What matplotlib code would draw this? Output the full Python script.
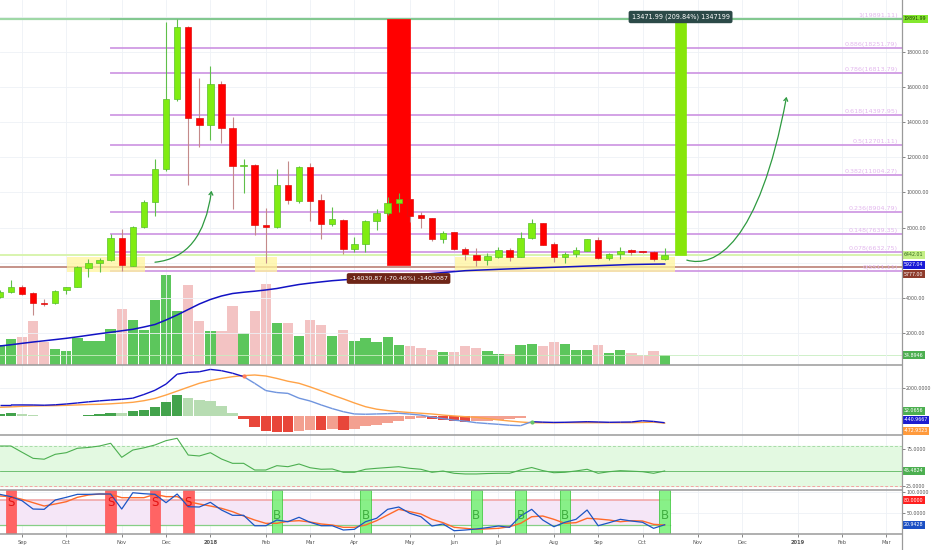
import numpy as np
import pandas as pd
import matplotlib
matplotlib.use('Agg')
import matplotlib.pyplot as plt
import matplotlib.transforms as mtransforms
from matplotlib.patches import Rectangle, FancyArrowPatch
from matplotlib.path import Path
from matplotlib.lines import Line2D
from matplotlib.collections import LineCollection
from matplotlib.ticker import FuncFormatter

plt.rcParams['font.family'] = ['DejaVu Sans']

# weekly bars, index 0 = first week of Sep 2017
weeks = pd.date_range('2017-08-21', periods=61, freq='W-MON')
x = np.arange(len(weeks)) - 2

opens = [4050, 4316, 4636, 4260, 3700, 3690, 4447, 4636, 5717, 6003, 6156, 7390, 5830, 8020, 9440,
         11320, 15306, 19408, 14225, 13844, 16179, 13655, 11526, 11566, 8150, 8050, 10427, 9516, 11469,
         9573, 8189, 8434, 6783, 7050, 8377, 8815, 9385, 9630, 8719, 8530, 7335, 7733, 6783, 6440, 6156,
         6344, 6720, 6344, 7390, 8246, 7050, 6310, 6480, 6686, 7295, 6253, 6480, 6725, 6630, 6630, 6196]
highs = [4420, 5000, 4730, 4330, 3920, 4440, 4640, 5800, 6196, 6250, 7637, 7900, 8090, 9573, 11890,
         19697, 19891, 19500, 16500, 17204, 16350, 14282, 11890, 11600, 9100, 11320, 11794, 11526, 11663,
         9914, 9191, 8500, 7483, 8420, 9043, 9761, 9954, 9650, 8907, 8560, 7825, 7760, 6913, 6822, 6555,
         6913, 6822, 7733, 8491, 8280, 7198, 6630, 6913, 7370, 7483, 6560, 6913, 6780, 6650, 6680, 6822]
lows = [3980, 4250, 4160, 3024, 3550, 3650, 4220, 4600, 5170, 5490, 6100, 5547, 5800, 7980, 8660,
        11200, 15200, 10427, 12574, 12990, 12836, 9043, 9990, 7580, 5985, 8000, 9345, 9400, 8394,
        7335, 8100, 6498, 6630, 6630, 7865, 8700, 8907, 8340, 7960, 7255, 7107, 6700, 6156, 5814, 5870,
        6253, 6116, 6300, 7350, 6990, 6025, 5968, 6310, 6650, 6200, 6150, 6196, 6420, 6560, 6120, 6150]
closes = [4330, 4636, 4220, 3725, 3640, 4410, 4636, 5775, 6003, 6156, 7390, 5870, 8020, 9440, 11320,
          15306, 19408, 14225, 13844, 16179, 13655, 11526, 11566, 8150, 8050, 10427, 9573, 11469, 9516,
          8189, 8474, 6783, 7050, 8377, 8815, 9385, 9630, 8680, 8530, 7335, 7710, 6765, 6480, 6156, 6384,
          6720, 6344, 7390, 8246, 7010, 6310, 6480, 6725, 7335, 6253, 6498, 6686, 6611, 6595, 6196, 6442]
volume = [72, 94, 101, 161, 81, 57, 50, 99, 86, 86, 132, 204, 163, 128, 237, 330, 198, 292, 158, 123,
          123, 215, 117, 195, 297, 154, 154, 106, 163, 145, 106, 127, 86, 99, 81, 101, 70, 68, 59, 53,
          46, 46, 68, 59, 50, 39, 39, 70, 77, 68, 81, 75, 55, 55, 70, 44, 53, 44, 35, 50, 34.9]
price_ma = [1259, 1330, 1410, 1486, 1555, 1625, 1697, 1780, 1870, 1959, 2040, 2125, 2210, 2340, 2483,
            2739, 3024, 3337, 3650, 3907, 4106, 4248, 4320, 4379, 4450, 4533, 4650, 4761, 4840, 4910,
            4977, 5025, 5070, 5114, 5160, 5200, 5245, 5290, 5340, 5387, 5440, 5495, 5547, 5575, 5600,
            5625, 5650, 5672, 5695, 5718, 5740, 5763, 5786, 5810, 5832, 5855, 5878, 5900, 5910, 5920, 5927]

macd = [816, 816, 820, 816, 800, 830, 887, 960, 1040, 1110, 1170, 1220, 1300, 1560, 1860, 2300, 3000,
        3130, 3170, 3340, 3250, 3070, 2830, 2350, 1840, 1700, 1640, 1300, 1100, 820, 560, 340, 180, 160,
        180, 200, 230, 170, 100, -40, -150, -260, -330, -440, -500, -555, -620, -650, -370, -400, -420,
        -410, -390, -370, -390, -410, -400, -390, -300, -350, -441]
signal = [652, 680, 720, 745, 760, 770, 790, 820, 850, 865, 900, 950, 1007, 1120, 1280, 1525, 1800,
          2080, 2355, 2550, 2700, 2823, 2900, 2943, 2872, 2700, 2500, 2355, 2100, 1820, 1525, 1250, 960,
          695, 520, 420, 340, 280, 230, 177, 100, 40, -14, -57, -150, -240, -319, -390, -440, -445, -445,
          -440, -440, -440, -440, -440, -440, -440, -420, -400, -473]
hist = [190, 235, 190, 120, 50, 25, 20, 70, 120, 190, 260, 235, 355, 475, 660, 1015, 1490, 1325, 1135,
        1085, 710, 260, -165, -710, -1030, -1065, -1085, -1015, -960, -980, -920, -945, -870, -640, -600,
        -475, -285, -190, -140, -190, -235, -305, -355, -335, -285, -235, -190, -90, 70, 30, 22, 35, 55,
        70, 45, 38, 36, 33, 25, 20, 32]
rsi = [79.5, 79.5, 71, 62.7, 61.5, 68.2, 70.4, 76.4, 77.5, 79.5, 83.2, 64.1, 74, 77, 80.9, 86.8, 90,
       67.2, 65.9, 70.4, 61.8, 55.9, 55.9, 46.8, 46.8, 52.7, 51.3, 55, 49.9, 47.8, 48.2, 43.7, 43.7,
       47.8, 49.1, 50.2, 51.3, 49.1, 47.8, 43.7, 45.4, 42.3, 41.4, 41.4, 42, 42.3, 42.3, 46.8, 50.2, 46,
       43.1, 43.7, 45.5, 47.8, 42.3, 44.5, 45.9, 45.2, 44.5, 42.3, 45.48]
stoch_k = [94.6, 89, 79.2, 59, 58.3, 80.9, 87.4, 94.6, 94.6, 95.4, 95.4, 59, 98.5, 96.1, 94.6, 74.4,
           95.4, 64.6, 63.9, 75.3, 56.7, 43.8, 43.8, 18.6, 18.6, 32.4, 28.3, 39, 26.9, 18.6, 18.6, 8.2,
           9.9, 28.3, 36.6, 58.3, 63.9, 48.7, 40.4, 17.9, 22.8, 6.5, 8.2, 10.7, 14, 17.9, 14.7, 42.1,
           58.3, 32.4, 16.2, 26.9, 34.1, 56.7, 18.6, 26, 34.1, 30, 26.9, 12.3, 20.94]
stoch_d = [90.6, 89, 82.5, 74.4, 66.3, 71.2, 76.8, 87.4, 93, 95.4, 94.6, 86.5, 86.5, 86.5, 94.6, 89,
           89, 76.8, 71.2, 66.3, 60.7, 52.6, 42.1, 32.4, 24.4, 24.4, 29.3, 30.8, 27.6, 22.8, 20.3, 14.7,
           14.7, 20.3, 30.8, 44.6, 58.3, 52.6, 47, 34.1, 26, 14.7, 12.3, 9.9, 11, 12.3, 16.2, 24.4, 40.4,
           42.1, 34.1, 24.4, 26, 36.6, 34.9, 32.4, 28.3, 30.8, 30, 22, 20.3]
sell_weeks = [-1, 8, 12, 15]
buy_weeks = [23, 31, 41, 45, 49, 58]

fib_ratios = ['0', '0.078', '0.148', '0.236', '0.382', '0.5', '0.618', '0.786', '0.886', '1']
fib_levels = [5511.11, 6632.75, 7639.35, 8904.79, 11004.27, 12701.11, 14397.95, 16813.79, 18251.79, 19891.11]
fib_start = 8
zones = [(4.06, 11.1), (21.0, 23.0), (39.1, 58.9)]
zone_low, zone_high = 5450, 6330
drop_range = (32.95, 35.02, 19891.11, 5860.24)
rise_range = (58.94, 59.93, 6419.12, 19891.11)

opens, highs, lows, closes = map(np.array, (opens, highs, lows, closes))
up = closes >= opens

W, H = 932, 550
fig = plt.figure(figsize=(W / 100, H / 100), dpi=100)
fig.patch.set_facecolor('white')


def box(top, bottom):
    return [0, 1 - bottom / H, 902 / W, (bottom - top) / H]


ax = fig.add_axes(box(0, 365))
axm = fig.add_axes(box(365, 435), sharex=ax)
axr = fig.add_axes(box(435, 490), sharex=ax)
axs = fig.add_axes(box(490, 534), sharex=ax)

# volume overlay shares the price panel
axv = ax.twinx()
axv.set_ylim(-1.8, 1338)
axv.set_yticks([])
for s in axv.spines.values():
    s.set_visible(False)
ax.set_zorder(axv.get_zorder() + 1)
ax.patch.set_visible(False)

# month ticks from the weekly calendar
all_weeks = pd.date_range(weeks[0], '2019-03-31', freq='W-MON')
pos = np.arange(len(all_weeks)) - 2
mticks, mlabels = [], []
for k in range(1, len(all_weeks)):
    if all_weeks[k].month != all_weeks[k - 1].month:
        mticks.append(pos[k])
        mlabels.append(str(all_weeks[k].year) if all_weeks[k].month == 1 else all_weeks[k].strftime('%b'))

grid_c = '#eef1f6'
for a in (ax, axm, axr, axs):
    for s in a.spines.values():
        s.set_visible(False)
    a.yaxis.tick_right()
    a.set_xticks(mticks)
    a.grid(True, color=grid_c, lw=0.6)
    a.set_axisbelow(True)
    a.tick_params(axis='y', labelsize=3.4, colors='#555555', length=2, width=0.5, pad=1)
    a.tick_params(axis='x', length=0, labelbottom=False)
axs.tick_params(axis='x', labelbottom=True, length=2, width=0.5, labelsize=3.7, colors='#555555', pad=2)
axs.set_xticklabels(mlabels)
for t in axs.get_xticklabels():
    if t.get_text().isdigit():
        t.set_fontweight('bold')

ax.set_xlim(-1.986, 79.42)

# ---- price panel
ax.set_ylim(176.5, 20962)
ax.set_yticks(np.arange(2000, 20001, 2000))
ax.yaxis.set_major_formatter(FuncFormatter(lambda v, p: '' if v in (6000, 20000) else f'{v:.2f}'))

axv.bar(x, volume, width=0.93, color=np.where(up, '#5cc65c', '#f3c3c3'), zorder=1)
axv.axhline(volume[-1], color='#c8eec0', lw=0.6)

ax.axhline(fib_levels[-1], color='#9fd8a6', lw=1.6, zorder=1)
for lvl, r in zip(fib_levels, fib_ratios):
    c = '#7cc48a' if r == '1' else '#c98be0'
    ax.plot([fib_start, 79.42], [lvl, lvl], color=c, lw=1.4, alpha=0.8, zorder=1)
    ax.text(79.06, lvl + 60, f'{r}({lvl:.2f})', ha='right', va='bottom', fontsize=4.6,
            color='#e3b8ee', zorder=2)
ax.axhline(closes[-1], color='#d6f3a8', lw=1.3, zorder=1)
ax.axhline(5777, color='#c08a80', lw=1.3, zorder=1)

for z0, z1 in zones:
    ax.add_patch(Rectangle((z0, zone_low), z1 - z0, zone_high - zone_low, fc='#fff59d',
                           ec='none', alpha=0.75, zorder=2))

d0, d1, dtop, dbot = drop_range
ax.add_patch(Rectangle((d0, dbot), d1 - d0, dtop - dbot, fc='#ff0000', ec='#ff0000', lw=0.5, zorder=3))
r0, r1, rbot, rtop = rise_range
ax.add_patch(Rectangle((r0, rbot), r1 - r0, rtop - rbot, fc='#86e60a', ec='#86e60a', lw=0.5, zorder=3))

wick_c = np.where(up, '#5fbf4a', '#c48a8a')
ax.vlines(x, lows, highs, colors=wick_c, lw=0.8, zorder=4)
body_lo = np.minimum(opens, closes)
body_h = np.maximum(np.abs(closes - opens), 45)
ax.bar(x, body_h, bottom=body_lo, width=0.58, color=np.where(up, '#80ec12', '#ff0000'),
       edgecolor=np.where(up, '#58c02a', '#e01010'), lw=0.5, zorder=4)

ax.plot(x, price_ma, color='#1212c4', lw=1.1, zorder=5)

arrow_kw = dict(arrowstyle='->,head_length=2.2,head_width=1.4', color='#2e9a40', lw=0.9, zorder=6)
p1 = Path([(12, 6030), (16.3, 6300), (17.1, 10100)], [Path.MOVETO, Path.CURVE3, Path.CURVE3])
p2 = Path([(60, 6150), (62.5, 5700), (66.5, 7000), (69, 15450)],
          [Path.MOVETO, Path.CURVE4, Path.CURVE4, Path.CURVE4])
ax.add_patch(FancyArrowPatch(path=p1, **arrow_kw))
ax.add_patch(FancyArrowPatch(path=p2, **arrow_kw))

ax.text((d0 + d1) / 2, 5103, '-14030.87 (-70.46%) -1403087', ha='center', va='center', fontsize=4.6,
        color='white', zorder=7, bbox=dict(boxstyle='round,pad=0.45,rounding_size=0.3', fc='#6e2517', ec='none'))
ax.text((r0 + r1) / 2, 19994, '13471.99 (209.84%) 1347199', ha='center', va='center', fontsize=4.7,
        color='white', zorder=7, bbox=dict(boxstyle='round,pad=0.45,rounding_size=0.3', fc='#2c4a48', ec='none'))


def tag(a, val, text, fc, tc='white', dy=0):
    tr = mtransforms.blended_transform_factory(a.transAxes, a.transData)
    a.annotate(text, xy=(1, val), xycoords=tr, xytext=(1.3, dy), textcoords='offset points',
               ha='left', va='center', fontsize=3.4, color=tc, annotation_clip=False, zorder=20,
               bbox=dict(boxstyle='square,pad=0.3', fc=fc, ec='none'))


tag(ax, 19891.99, '19891.99', '#84e82f', '#1b3b00')
tag(ax, closes[-1], '6442.01', '#c4ef86', '#33691e')
tag(ax, price_ma[-1], '5927.04', '#1a1ad6', dy=-0.7)
tag(ax, 5777, '5777.00', '#8e3b2c', dy=-5.3)
tag(axv, volume[-1], '34.8946', '#4caf50')

# ---- MACD panel
axm.set_ylim(-1312, 3652)
axm.set_yticks([2000])
axm.yaxis.set_major_formatter(FuncFormatter(lambda v, p: f'{v:.4f}'))
hist_colors = []
for k, h in enumerate(hist):
    prev = hist[k - 1] if k > 0 else h
    if h >= 0:
        hist_colors.append('#43a34c' if h >= prev else '#b7dcb2')
    else:
        hist_colors.append('#e8463a' if h <= prev else '#f3a090')
axm.bar(x, hist, width=0.95, color=hist_colors, zorder=2)
axm.plot(x, signal, color='#ffa347', lw=1.0, zorder=3)
segs = [[(x[k], macd[k]), (x[k + 1], macd[k + 1])] for k in range(len(x) - 1)]
seg_c = ['#1414c8' if macd[k] >= signal[k] else '#6f94de' for k in range(len(x) - 1)]
axm.add_collection(LineCollection(segs, colors=seg_c, lw=1.0, zorder=4))
axm.scatter([20], [2880], s=9, color='#ff7f5a', zorder=5, lw=0)
axm.scatter([46], [-369], s=9, color='#66c46a', zorder=5, lw=0)
tag(axm, hist[-1], '32.0656', '#4caf50', dy=3.8)
tag(axm, macd[-1], '-440.9667', '#1c1ccf', dy=2.0)
tag(axm, signal[-1], '-472.9323', '#ff9a3c', dy=-5.6)

# ---- RSI panel
axr.set_ylim(19.55, 94.5)
axr.set_yticks([25, 50, 75])
axr.yaxis.set_major_formatter(FuncFormatter(lambda v, p: '' if v == 50 else f'{v:.4f}'))
axr.axhspan(25, 80, color='#e3f9e1', zorder=1)
axr.axhline(80, color='#a8dca8', lw=0.7, ls=(0, (3, 2)), zorder=2)
axr.axhline(25, color='#f2a3a3', lw=0.7, ls=(0, (3, 2)), zorder=2)
axr.axhline(rsi[-1], color='#5bb75f', lw=0.6, zorder=2)
axr.plot(x, rsi, color='#4caf50', lw=0.8, zorder=3)
tag(axr, rsi[-1], '45.4824', '#4caf50')

# ---- Stochastic panel
axs.set_ylim(-1.45, 105.1)
axs.set_yticks([50, 100])
axs.yaxis.set_major_formatter(FuncFormatter(lambda v, p: f'{v:.4f}'))
axs.fill_between([-1.986, x[-1] + 0.5], 20, 80, color='#f5e6f7', zorder=1, lw=0)
axs.plot([-1.986, x[-1] + 0.5], [80, 80], color='#f0a0a0', lw=1.1, zorder=2)
axs.plot([-1.986, x[-1] + 0.5], [20, 20], color='#86cf86', lw=0.9, zorder=2)
for w in sell_weeks:
    axs.axvspan(w - 0.48, w + 0.48, fc='#ff6464', ec='#ff4040', lw=0.4, zorder=3)
    axs.text(w, 76, 'S', ha='center', va='center', fontsize=8.5, color='#e41414', zorder=6)
for w in buy_weeks:
    axs.axvspan(w - 0.48, w + 0.48, fc='#7cf27c', ec='#3cc63c', lw=0.6, alpha=0.9, zorder=3)
    axs.text(w, 44.5, 'B', ha='center', va='center', fontsize=8.5, color='#3fae3f', zorder=6)
axs.plot(x, stoch_d, color='#ff6a2a', lw=1.0, zorder=4)
axs.plot(x, stoch_k, color='#1c55c4', lw=0.9, zorder=5)
tag(axs, 80, '80.0000', '#ff1f1f')
tag(axs, stoch_k[-1], '20.9428', '#1b4fc4')

# panel separators and price-scale border
for yy in (365, 435, 490, 534):
    fig.add_artist(Line2D([0, 902 / W], [1 - yy / H] * 2, color='#9a9a9a', lw=1.1))
fig.add_artist(Line2D([902 / W] * 2, [0, 1], color='#9a9a9a', lw=0.9))

fig.savefig('out.png', dpi=100)
